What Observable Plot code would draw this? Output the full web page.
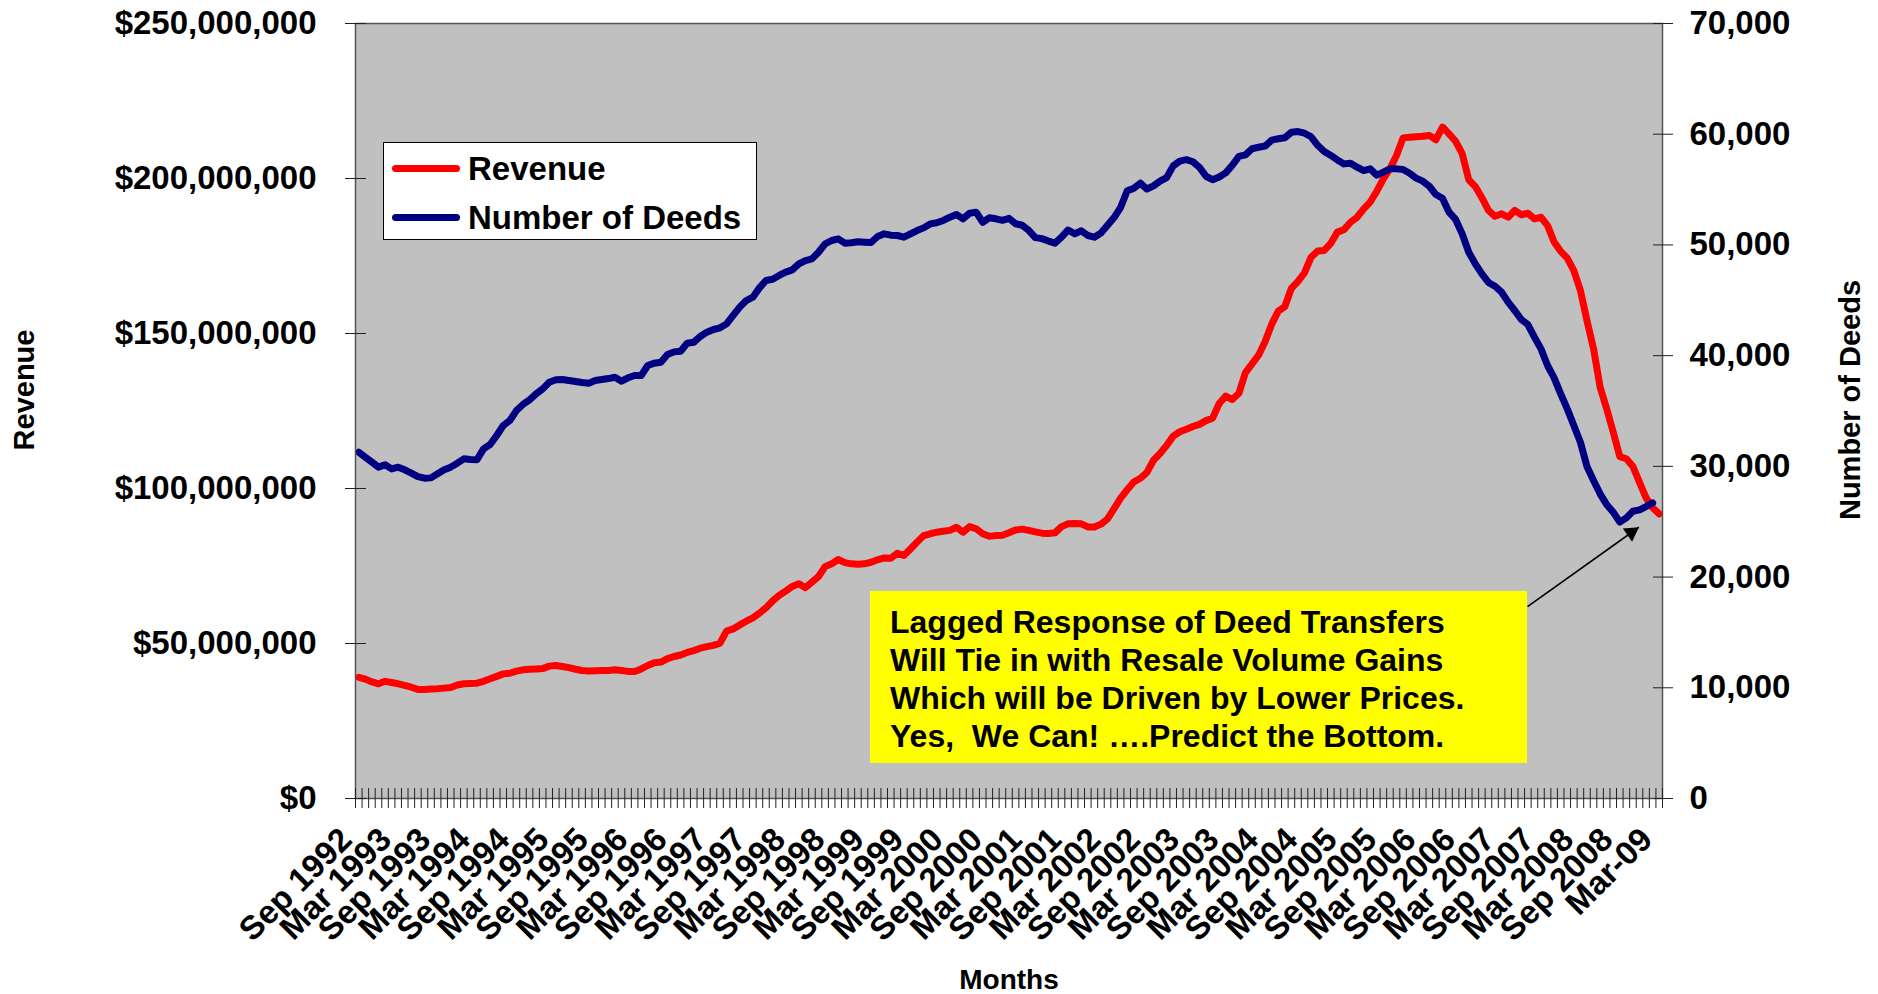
<!DOCTYPE html>
<html>
<head>
<meta charset="utf-8">
<script src="https://cdn.jsdelivr.net/npm/d3@7"></script>
<script src="https://cdn.jsdelivr.net/npm/@observablehq/plot@0.6"></script>
<style>
  html, body { margin: 0; padding: 0; background: #fff; }
  #wrap { position: relative; width: 1878px; height: 994px; font-family: "Liberation Sans", Arial, sans-serif; font-weight: bold; color: #000; }
  #wrap svg { display: block; }
  .legend { position: absolute; left: 383px; top: 142px; width: 374px; height: 98px; box-sizing: border-box; background: #fff; border: 1px solid #000; }
  .legend .swatch { position: absolute; left: 8px; width: 68px; height: 7px; border-radius: 3.5px; }
  .legend .lab { position: absolute; left: 84px; font-size: 33px; line-height: 38px; white-space: pre; }
  .note { position: absolute; left: 870px; top: 591px; width: 657px; height: 172px; background: #FFFF00; box-sizing: border-box; padding: 11.5px 0 0 20px; font-size: 32px; line-height: 38.3px; white-space: pre; }
</style>
</head>
<body>
<div id="wrap"></div>
<script>
// ---------------- data ----------------
const tickLabels = [
  "Sep 1992","Mar 1993","Sep 1993","Mar 1994","Sep 1994","Mar 1995","Sep 1995","Mar 1996",
  "Sep 1996","Mar 1997","Sep 1997","Mar 1998","Sep 1998","Mar 1999","Sep 1999","Mar 2000",
  "Sep 2000","Mar 2001","Sep 2001","Mar 2002","Sep 2002","Mar 2003","Sep 2003","Mar 2004",
  "Sep 2004","Mar 2005","Sep 2005","Mar 2006","Sep 2006","Mar 2007","Sep 2007","Mar 2008",
  "Sep 2008","Mar-09"
];

// Monthly revenue, $ millions, Sep 1992 .. Mar 2009
const revenueM = [
  39.1,38.5,37.6,37.0,37.8,37.4,37.0,36.5,35.9,35.2,
  35.2,35.3,35.4,35.6,35.8,36.6,37.0,37.1,37.2,37.8,
  38.6,39.4,40.2,40.4,41.1,41.5,41.7,41.8,41.9,42.7,
  42.9,42.6,42.2,41.7,41.3,41.1,41.2,41.3,41.3,41.5,
  41.3,41.0,41.0,41.8,42.9,43.8,44.0,45.1,45.8,46.3,
  47.1,47.7,48.5,49.0,49.4,50.1,54.0,54.7,56.0,57.2,
  58.3,59.8,61.5,63.7,65.5,66.9,68.4,69.3,68.0,69.8,
  71.6,74.8,75.7,77.1,76.1,75.7,75.6,75.7,76.2,77.0,
  77.6,77.5,79.1,78.4,80.5,82.7,84.8,85.4,85.9,86.2,
  86.5,87.5,85.9,87.7,87.0,85.4,84.6,84.8,84.9,85.7,
  86.6,86.9,86.5,86.0,85.6,85.5,85.7,87.7,88.6,88.7,
  88.6,87.6,87.6,88.5,90.2,93.5,96.9,99.6,102.1,103.3,
  105.2,109.1,111.3,113.9,116.9,118.3,119.1,120.0,120.7,121.9,
  122.7,127.4,129.8,128.7,130.7,137.4,140.2,143.0,147.4,153.0,
  157.2,158.7,164.6,166.8,169.6,174.6,176.6,176.8,179.1,182.7,
  183.5,185.9,187.5,190.2,192.4,195.9,199.9,203.1,207.4,213.1,
  213.3,213.5,213.6,213.9,212.5,216.6,214.4,212.0,208.0,199.6,
  197.4,193.8,189.7,187.8,188.6,187.5,189.7,188.3,188.8,187.0,
  187.5,184.8,179.5,176.5,174.3,170.3,163.9,154.2,145.1,132.7,
  125.7,118.2,110.3,109.6,107.1,102.0,97.0,93.8,91.8
];

// Monthly number of deeds, Sep 1992 .. Feb 2009
const deeds = [
  31280,30830,30380,29930,30140,29770,29930,29690,29390,29080,
  28930,28960,29330,29690,29930,30290,30680,30620,30590,31580,
  31970,32790,33690,34140,35040,35590,36010,36550,37000,37600,
  37820,37840,37750,37660,37570,37510,37750,37840,37930,38050,
  37690,38000,38210,38210,39110,39320,39410,40100,40340,40400,
  41120,41210,41730,42120,42360,42510,42870,43630,44380,44980,
  45280,46120,46790,46900,47240,47540,47750,48290,48590,48740,
  49340,50100,50400,50550,50160,50190,50280,50250,50220,50760,
  51000,50880,50850,50700,51000,51300,51540,51900,52000,52210,
  52510,52750,52360,52860,52960,52050,52450,52360,52220,52400,
  51910,51780,51320,50660,50570,50350,50160,50700,51350,51000,
  51280,50850,50700,51070,51780,52470,53400,54900,55110,55580,
  55050,55330,55760,56080,57140,57570,57700,57510,57010,56200,
  55890,56140,56510,57200,58000,58130,58690,58820,58930,59470,
  59590,59680,60180,60240,60090,59770,59000,58440,58080,57680,
  57320,57380,57020,56720,56870,56300,56570,56870,56870,56810,
  56480,56030,55760,55300,54550,54220,52960,52300,51000,49340,
  48290,47390,46610,46270,45730,44830,44080,43260,42810,41670,
  40610,39110,37990,36550,35190,33690,32180,29990,28720,27520,
  26550,25860,24960,25350,25950,26070,26370,26700
];

const revenueTicks = [0, 50e6, 100e6, 150e6, 200e6, 250e6];
const deedTicks = [0, 10000, 20000, 30000, 40000, 50000, 60000, 70000];

const seriesNames = ["Revenue", "Number of Deeds"];
const seriesColors = ["#FF0000", "#000080"];

const noteLines = [
  "Lagged Response of Deed Transfers",
  "Will Tie in with Resale Volume Gains",
  "Which will be Driven by Lower Prices.",
  "Yes,  We Can! \u2026.Predict the Bottom."
];

// ---------------- build ----------------
const FONT = "'Liberation Sans', Arial, sans-serif";
const revMax = 250e6, deedMax = 70000;
const k = revMax / deedMax; // deeds -> revenue-axis units

const months = d3.utcMonth.range(new Date(Date.UTC(1992, 8, 1)), new Date(Date.UTC(2009, 3, 1)));
const nCat = months.length; // 199 categories
const revRows = months.map((m, i) => ({u: i + 0.5, v: revenueM[i] * 1e6}));
const deedRows = deeds.map((d, i) => ({u: i + 0.5, v: d * k}));
const labelRows = tickLabels.map((t, j) => ({u: j * 6 + 0.5, t}));
const bounds = d3.range(0, nCat + 1);

// annotation arrow (category units / revenue units)
const arrow = [{x1: 178.45, y1: 61.9e6, x2: 195.4, y2: 87.5e6}];

const fmtRev = d3.format("$,");
const fmtDeed = d3.format(",");

const chart = Plot.plot({
  width: 1878, height: 994,
  marginLeft: 355, marginRight: 216, marginTop: 23, marginBottom: 196,
  x: {type: "linear", domain: [0, nCat]},
  y: {type: "linear", domain: [0, revMax]},
  style: {fontFamily: FONT, fontWeight: "bold", background: "white", color: "black", overflow: "visible"},
  marks: [
    Plot.frame({fill: "#C0C0C0", stroke: null}),
    Plot.line(revRows, {x: "u", y: "v", stroke: seriesColors[0], strokeWidth: 7, strokeLinejoin: "round", strokeLinecap: "round"}),
    Plot.line(deedRows, {x: "u", y: "v", stroke: seriesColors[1], strokeWidth: 7, strokeLinejoin: "round", strokeLinecap: "round"}),
    Plot.frame({stroke: "#555", strokeWidth: 1.5}),
    // x-axis cross ticks
    Plot.axisX({ticks: bounds, tickSize: 10, tickFormat: () => "", label: null, stroke: "#222"}),
    Plot.axisX({ticks: bounds, tickSize: 10, tickFormat: () => "", label: null, stroke: "#222", dy: -10}),
    // x labels
    Plot.text(labelRows, {x: "u", text: "t", frameAnchor: "bottom", dy: 43, dx: -5, rotate: -45, textAnchor: "end", lineAnchor: "bottom", fontSize: 33, fontWeight: "bold"}),
    // left axis
    Plot.axisY({anchor: "left", ticks: revenueTicks, tickSize: 0, tickPadding: 39, tickFormat: fmtRev, fontSize: 33, label: null}),
    Plot.axisY({anchor: "left", ticks: revenueTicks, tickSize: 10, tickFormat: () => "", label: null, stroke: "#222"}),
    Plot.axisY({anchor: "left", ticks: revenueTicks, tickSize: 11, tickFormat: () => "", label: null, stroke: "#222", dx: 11}),
    // right axis (deeds)
    Plot.axisY({anchor: "right", ticks: deedTicks.map(d => d * k), tickSize: 0, tickPadding: 27, tickFormat: d => fmtDeed(Math.round(d / k)), fontSize: 33, label: null}),
    Plot.axisY({anchor: "right", ticks: deedTicks.map(d => d * k), tickSize: 10, tickFormat: () => "", label: null, stroke: "#222"}),
    Plot.axisY({anchor: "right", ticks: deedTicks.map(d => d * k), tickSize: 10, tickFormat: () => "", label: null, stroke: "#222", dx: -10}),
    // axis titles
    Plot.text(["Revenue"], {frameAnchor: "left", textAnchor: "middle", dx: -331, dy: -21, rotate: -90, fontSize: 29, fontWeight: "bold"}),
    Plot.text(["Number of Deeds"], {frameAnchor: "right", textAnchor: "middle", dx: 188, dy: -11, rotate: -90, fontSize: 29, fontWeight: "bold"}),
    Plot.text(["Months"], {frameAnchor: "bottom", textAnchor: "middle", dy: 190, fontSize: 28, fontWeight: "bold"}),
    // annotation arrow
    Plot.link(arrow, {x1: "x1", y1: "y1", x2: "x2", y2: "y2", stroke: "black", strokeWidth: 1.6}),
    Plot.dot(arrow, {x: "x2", y: "y2", symbol: "triangle", r: 6, fill: "black", stroke: null, rotate: 55, dx: -7.6, dy: 5.3})
  ]
});

const wrap = document.getElementById("wrap");
wrap.appendChild(chart);

// legend
const legend = document.createElement("div");
legend.className = "legend";
seriesNames.forEach((name, j) => {
  const cy = 25.5 + j * 49;
  const sw = document.createElement("div");
  sw.className = "swatch";
  sw.style.top = (cy - 3.5) + "px";
  sw.style.background = seriesColors[j];
  legend.appendChild(sw);
  const lab = document.createElement("div");
  lab.className = "lab";
  lab.style.top = (cy - 19) + "px";
  lab.textContent = name;
  legend.appendChild(lab);
});
wrap.appendChild(legend);

// annotation box
const note = document.createElement("div");
note.className = "note";
note.textContent = noteLines.join("\n");
wrap.appendChild(note);
</script>
</body>
</html>
